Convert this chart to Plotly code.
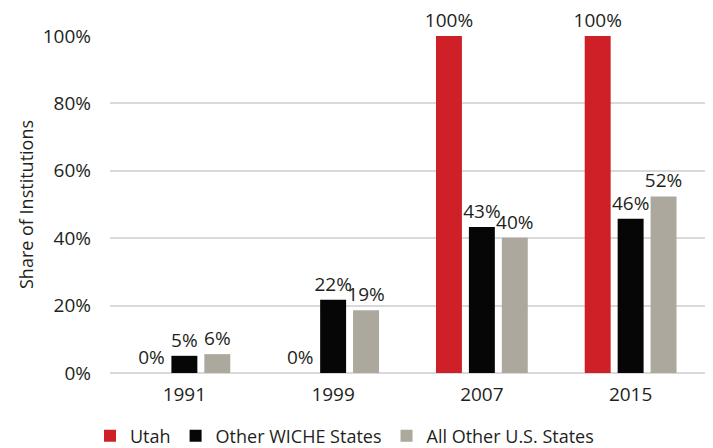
import plotly.graph_objects as go

years = ["1991", "1999", "2007", "2015"]
utah = [0, 0, 100, 100]
other_wiche = [5.1, 21.7, 43.3, 45.8]
all_other_us = [5.6, 18.6, 40.1, 52.4]

series_names = ["Utah", "Other WICHE States", "All Other U.S. States"]
colors = ["#cf2027", "#060606", "#aca89e"]

FONT = "Open Sans"
TXT = "#231f20"
FS = 19

fig = go.Figure()
for name, vals, col in zip(series_names, [utah, other_wiche, all_other_us], colors):
    fig.add_trace(go.Bar(
        x=years, y=vals, name=name, marker=dict(color=col, line=dict(width=0)),
        text=[f"{v:.0f}%" for v in vals], textposition="outside",
        textfont=dict(family=FONT, size=FS, color=TXT),
        constraintext="none", cliponaxis=False,
    ))

W, H = 705, 440
fig.update_layout(
    width=W, height=H,
    margin=dict(l=102, r=7.5, t=28, b=74.7, autoexpand=False),
    paper_bgcolor="white", plot_bgcolor="white",
    barmode="group", bargap=0.336, bargroupgap=0.212,
    font=dict(family=FONT, size=FS, color=TXT),
    showlegend=True,
    legend=dict(orientation="h", x=82 / W, xref="container", xanchor="left",
                y=1 - 428 / H, yref="container", yanchor="middle",
                font=dict(family=FONT, size=18, color=TXT)),
)
fig.update_yaxes(range=[0, 100], tickvals=[0, 20, 40, 60, 80, 100],
                 ticktext=["0%", "20%", "40%", "60%", "80%", "100%"],
                 showgrid=True, gridcolor="#d9d9d9", gridwidth=1.5,
                 zeroline=True, zerolinecolor="#d9d9d9", zerolinewidth=1.5,
                 showline=False, ticks="", ticklabelstandoff=18, automargin=False,
                 title=dict(text="Share of Institutions", font=dict(family=FONT, size=18, color=TXT), standoff=4),
                 tickfont=dict(family=FONT, size=FS, color=TXT))
fig.update_xaxes(showline=False, ticks="", tickfont=dict(family=FONT, size=FS, color=TXT),
                 ticklabelstandoff=8, automargin=False)

fig.write_html("out.html")
